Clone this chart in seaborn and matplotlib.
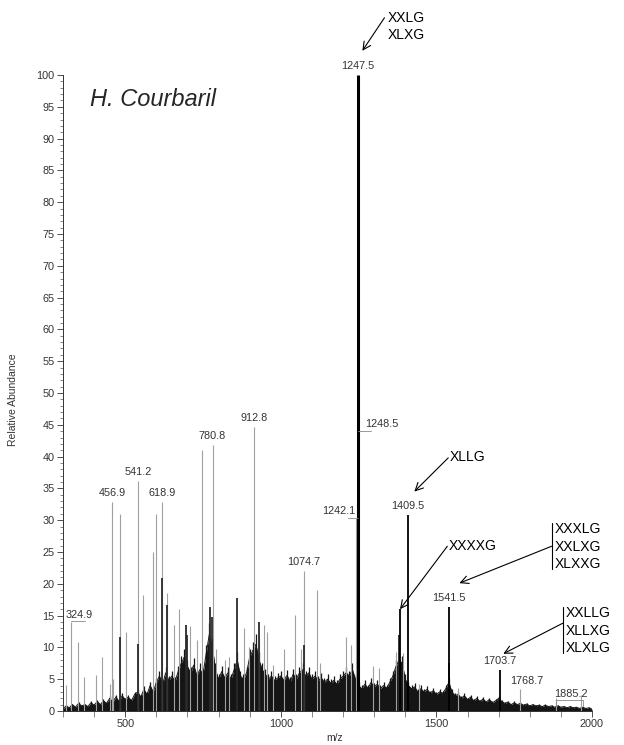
import matplotlib
matplotlib.use("Agg")
import numpy as np
import pandas as pd
import matplotlib.pyplot as plt
from matplotlib.ticker import MultipleLocator
import seaborn as sns

sns.set_style("ticks")
plt.rcParams["font.family"] = ["Liberation Sans", "DejaVu Sans"]

# ---------------------------------------------------------------------------
# Data (m/z, relative abundance %)
# ---------------------------------------------------------------------------
# dense "grass" of the baseline, sampled every 10 m/z
noise_mz = list(range(300, 2001, 10))
noise_h = [0.3, 0.8, 0.5, 1.0, 0.6, 1.2, 0.8, 1.0, 0.7, 1.3,
           0.9, 1.5, 1.0, 1.6, 1.2, 2.0, 1.4, 2.2, 1.5, 2.4,
           1.8, 2.2, 1.6, 2.6, 3.0, 2.2, 3.4, 2.6, 4.0, 3.0,
           4.5, 5.5, 4.2, 6.0, 4.8, 5.5, 4.6, 6.2, 7.5, 8.5,
           7.0, 6.0, 7.2, 5.6, 6.5, 5.8, 9.0, 12.0, 10.0, 6.5,
           5.0, 6.2, 5.2, 6.0, 5.0, 6.5, 8.0, 5.5, 5.0, 6.0,
           8.5, 9.5, 10.5, 8.0, 6.5, 5.8, 5.0, 5.5, 4.8, 5.2,
           5.5, 4.8, 5.6, 4.6, 5.8, 5.0, 6.0, 6.5, 5.5, 6.0,
           5.0, 5.5, 4.8, 5.2, 4.5, 5.0, 4.4, 4.8, 4.2, 5.0,
           5.5, 6.0, 5.5, 6.5, 5.0, 4.0, 3.5, 4.2, 3.6, 4.5,
           3.8, 4.2, 3.5, 4.0, 3.6, 4.5, 5.5, 7.0, 8.0, 7.5,
           5.0, 4.0, 3.5, 3.8, 3.0, 3.5, 3.0, 3.4, 2.8, 3.2,
           2.6, 3.0, 2.8, 3.5, 4.5, 3.0, 2.4, 2.6, 2.0, 2.4,
           1.8, 2.2, 1.6, 2.0, 1.5, 1.9, 1.4, 1.8, 1.3, 1.6,
           2.0, 1.5, 1.2, 1.4, 1.0, 1.3, 1.0, 1.2, 0.9, 1.1,
           0.8, 1.0, 0.8, 0.9, 0.7, 0.9, 0.7, 0.8, 0.6, 0.8,
           0.6, 0.7, 0.5, 0.7, 0.5, 0.6, 0.4, 0.6, 0.4, 0.5,
           0.3]

# unlabelled grey peaks
grey_mz = [310, 348, 367, 407, 425, 450, 460, 484, 503, 556, 589, 598, 634,
           658, 672, 707, 731, 748, 792, 819, 835, 883, 899, 929, 945, 956,
           974, 1009, 1044, 1065, 1117, 1127, 1208, 1226, 1295, 1317, 1370,
           1392, 1445, 1568, 1965]
grey_h = [4.1, 10.9, 5.4, 5.6, 8.5, 4.3, 5.1, 31.0, 12.5, 18.2, 25.0, 31.0,
          18.5, 13.5, 16.1, 13.3, 11.2, 41.0, 9.8, 8.0, 8.5, 13.0, 10.0,
          11.7, 13.5, 12.5, 7.2, 9.8, 15.1, 9.8, 19.0, 7.5, 11.7, 10.4, 7.0,
          6.7, 9.3, 9.1, 4.3, 3.6, 2.5]

# darker clusters rising out of the baseline
dark_mz = [484, 540, 617, 634, 694, 700, 771, 778, 860, 929, 1076, 1380, 1539]
dark_h = [11.7, 10.6, 20.9, 16.7, 13.5, 12.0, 16.4, 14.8, 17.7, 14.0, 10.4,
          12.0, 7.5]

# labelled peaks
label_mz = [324.9, 456.9, 541.2, 618.9, 780.8, 912.8, 1074.7, 1242.1, 1248.5,
            1768.7, 1885.2]
label_h = [14.0, 32.9, 36.2, 32.9, 41.8, 44.7, 22.0, 30.3, 44.1, 3.5, 2.0]

major_mz = [1247.5, 1409.5, 1383.0, 1541.5, 1703.7]
major_h = [100.0, 30.8, 16.0, 16.4, 6.4]
major_txt = ["1247.5", "1409.5", None, "1541.5", "1703.7"]

# ---------------------------------------------------------------------------
fig = plt.figure(figsize=(6.24, 7.45), dpi=100)
ax = fig.add_axes([63 / 624, 34 / 745, 529 / 624, 636 / 745])

noise = pd.DataFrame({"mz": noise_mz, "h": noise_h})
ax.fill_between(noise["mz"], 0, noise["h"], color="#151515", lw=0)
sns.lineplot(data=noise, x="mz", y="h", color="#151515", lw=0.7, ax=ax)
ax.vlines(noise["mz"], 0, noise["h"] * 1.15, color="#151515", lw=0.9)

ax.vlines(grey_mz, 0, grey_h, color="#a0a0a0", lw=0.8)
ax.vlines(label_mz, 0, label_h, color="#a0a0a0", lw=0.8)
ax.vlines(dark_mz, 0, dark_h, color="#2a2a2a", lw=1.3)
ax.vlines(major_mz[1:], 0, major_h[1:], color="black", lw=1.3)
ax.vlines(major_mz[0], 0, major_h[0], color="black", lw=2.2)

lab_kw = dict(fontsize=7.8, color="#333333")
# peak labels (grey peaks)
for mz, h in zip(label_mz, label_h):
    txt = f"{mz:.1f}"
    if mz == 324.9:
        ax.text(mz - 15, h + 0.3, txt, ha="left", va="bottom", **lab_kw)
        ax.plot([mz, mz + 45], [h + 0.2, h + 0.2], color="#888", lw=0.6)
    elif mz == 1242.1:
        ax.text(1241, h + 0.3, txt, ha="right", va="bottom", **lab_kw)
        ax.plot([1215, 1247.5], [h, h], color="#888", lw=0.6)
    elif mz == 1248.5:
        ax.text(1272, h + 0.3, txt, ha="left", va="bottom", **lab_kw)
        ax.plot([1247.5, 1290], [h, h], color="#888", lw=0.6)
    elif mz == 1768.7:
        ax.text(mz + 22, h + 0.4, txt, ha="center", va="bottom", **lab_kw)
    elif mz == 1885.2:
        ax.plot([mz, mz, 1970, 1970], [0.8, 1.8, 1.8, 0.8], color="#888", lw=0.6)
        ax.text(1932, 1.9, txt, ha="center", va="bottom", **lab_kw)
    else:
        ax.text(mz, h + 0.6, txt, ha="center", va="bottom", **lab_kw)

for mz, h, txt in zip(major_mz, major_h, major_txt):
    if txt:
        ax.text(mz, h + 0.6, txt, ha="center", va="bottom", clip_on=False,
                **lab_kw)

# structure annotations
ann_kw = dict(fontsize=10, color="black", va="center", linespacing=1.32,
              clip_on=False)
arrow_kw = dict(arrowstyle="->", lw=0.8, color="black", mutation_scale=14,
                shrinkA=0, shrinkB=0)


def arrow(start, end):
    ax.annotate("", xy=end, xytext=start, arrowprops=arrow_kw,
                annotation_clip=False)


ax.text(1343, 107.6, "XXLG\nXLXG", **ann_kw)
arrow((1333, 109.0), (1262, 103.8))

ax.text(1542, 40.0, "XLLG", **ann_kw)
arrow((1538, 39.8), (1429, 34.5))

ax.text(1540, 26.0, "XXXXG", **ann_kw)
arrow((1535, 25.9), (1383, 16.0))

ax.plot([1870, 1870], [29.6, 22.3], color="black", lw=0.8, clip_on=False)
ax.text(1881, 25.8, "XXXLG\nXXLXG\nXLXXG", **ann_kw)
arrow((1870, 25.9), (1574, 20.1))

ax.plot([1906, 1906], [16.4, 9.1], color="black", lw=0.8, clip_on=False)
ax.text(1917, 12.6, "XXLLG\nXLLXG\nXLXLG", **ann_kw)
arrow((1906, 13.8), (1715, 9.0))

# axes styling
ax.set_xlim(300, 2000)
ax.set_ylim(0, 100)
ax.set_yticks(range(0, 101, 5))
ax.yaxis.set_minor_locator(MultipleLocator(1))
ax.set_xticks([500, 1000, 1500, 2000])
ax.xaxis.set_minor_locator(MultipleLocator(100))
sns.despine(ax=ax)
for s in ["left", "bottom"]:
    ax.spines[s].set_linewidth(0.7)
    ax.spines[s].set_color("#333333")
ax.tick_params(which="major", labelsize=7.8, length=4, width=0.6,
               colors="#333333", pad=2)
ax.tick_params(which="minor", length=2, width=0.5, colors="#555555")
ax.tick_params(axis="x", which="minor", length=4)

ax.set_ylabel("Relative Abundance", fontsize=7.5, color="#333333")
ax.yaxis.set_label_coords(-0.085, 0.49)
ax.set_xlabel("m/z", fontsize=7.5, color="#333333")
ax.xaxis.set_label_coords(0.514, -0.034)

fig.text(90 / 624, 1 - 100 / 745, "H. Courbaril", fontsize=17, style="italic",
         va="center", ha="left")

fig.savefig("out.png", dpi=100)
